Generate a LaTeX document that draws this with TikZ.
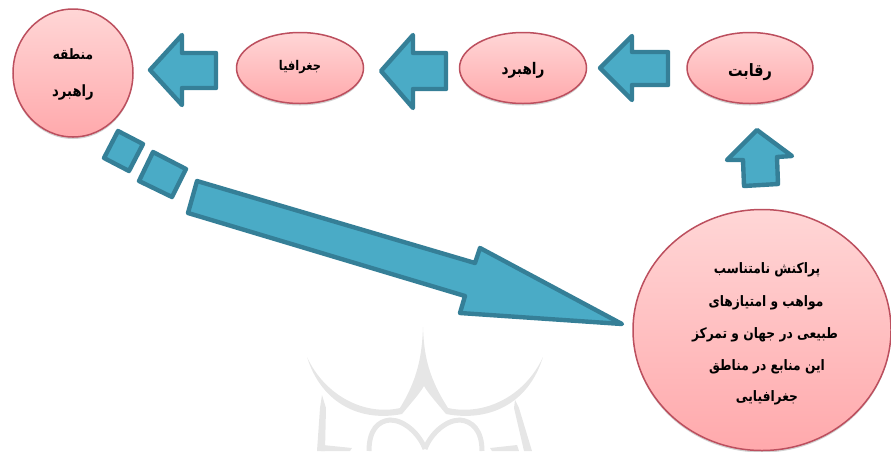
\documentclass[tikz,border=0pt]{standalone}
\usepackage{fontspec}
\TeXXeTstate=1
\newfontfamily\arabicfont[Script=Arabic,FakeStretch=0.85]{DejaVu Sans}
\usetikzlibrary{shapes.geometric,shadows}
\definecolor{bluefill}{HTML}{4AABC6}
\definecolor{blueline}{HTML}{357F97}
\definecolor{pinktop}{HTML}{FFD6D6}
\definecolor{pinkbot}{HTML}{FFA9AC}
\definecolor{pinkline}{HTML}{BC4F5E}
\definecolor{markgrey}{HTML}{E6E6E6}
\tikzset{
  x=1pt,y=-1pt,
  blob/.style={draw=pinkline,line width=1.5pt,top color=pinktop,bottom color=pinkbot,inner sep=0pt,
    drop shadow={shadow xshift=0pt,shadow yshift=-2pt,fill=black,opacity=.18},ellipse},
  flow/.style={draw=blueline,fill=bluefill,line width=4.4pt,line join=round},
  wmark/.style={draw=markgrey,line width=5pt},
  wfill/.style={fill=markgrey,draw=none},
  lab/.style={font=\arabicfont\bfseries\fontsize{#1}{#1}\selectfont,text=black,align=center,inner sep=0pt}
}
\newcommand{\fa}[1]{\beginR #1\endR}
\begin{document}
\begin{tikzpicture}
\useasboundingbox (0,0) rectangle (891,451);
% watermark
\fill[wfill] (423,327) .. controls (424,355) and (428,378) .. (450,411) -- (446,414) .. controls (436,402) and (428,393) .. (424,386) .. controls (420,393) and (412,402) .. (402,414) -- (398,411) .. controls (418,380) and (422,355) .. (423,327) -- cycle;
\fill[wfill] (307,357) .. controls (325,396) and (365,416) .. (400,408) -- (402,414) .. controls (362,422) and (322,405) .. (307,357) -- cycle;
\fill[wfill] (543,357) .. controls (525,396) and (485,416) .. (448,408) -- (446,414) .. controls (488,422) and (528,405) .. (543,357) -- cycle;
\fill[wfill] (322,395) -- (326,408) -- (325,451) -- (317,451) -- (320,408) -- cycle;
\fill[wfill] (515,400) -- (519,408) -- (532,451) -- (524,451) -- (514,408) -- cycle;
\fill[wfill] (323,445) -- (352,448) -- (350,451) -- (321,451) -- cycle;
\fill[wfill] (517,445) -- (490,448) -- (492,451) -- (519,451) -- cycle;
\draw[wmark] (369,451) .. controls (369,430) and (378,421) .. (390,420) .. controls (405,420) and (420,435) .. (425,449);
\draw[wmark] (482,451) .. controls (482,430) and (472,421) .. (460,420) .. controls (445,420) and (430,435) .. (425,449);
% nodes
\node[blob,minimum width=120pt,minimum height=128pt] (region) at (73,73) {};
\node[lab=14.3] at (73,54) {\fa{منطقه}};
\node[lab=15.5] at (73,92) {\fa{راهبرد}};
\node[blob,minimum width=127pt,minimum height=71pt] (geo) at (300,68) {};
\node[lab=13.4] at (300,67) {\fa{جغرافیا}};
\node[blob,minimum width=127pt,minimum height=71pt] (strategy) at (523,68) {};
\node[lab=16] at (523,70) {\fa{راهبرد}};
\node[blob,minimum width=126pt,minimum height=71pt] (rivalry) at (750,68) {};
\node[lab=17] at (750,72) {\fa{رقابت}};
\node[blob,minimum width=258pt,minimum height=241pt] (disp) at (762,330) {};
\node[lab=14.4] at (767,270) {\fa{پراکنش نامتناسب}};
\node[lab=14.4] at (766,303) {\fa{مواهب و امتیازهای}};
\node[lab=14.4] at (765,335) {\fa{طبیعی در جهان و تمرکز}};
\node[lab=14.4] at (767,367) {\fa{این منابع در مناطق}};
\node[lab=14.4] at (767,398) {\fa{جغرافیایی}};
% arrows
\draw[flow] (150,70) -- (182,35) -- (182,53) -- (216,53) -- (216,88) -- (182,88) -- (182,105) -- cycle;
\draw[flow] (381,71) -- (413,35) -- (413,53) -- (446,53) -- (446,89) -- (413,89) -- (413,108) -- cycle;
\draw[flow] (600,68) -- (632,36) -- (632,52) -- (668,52) -- (668,85) -- (632,85) -- (632,100) -- cycle;
\draw[flow] (757,130) -- (727,160) -- (743,160) -- (744,186) -- (778,184) -- (777,157) -- (792,156) -- cycle;
\draw[flow] (118,131) -- (143,144) -- (129,171) -- (104,158) -- cycle;
\draw[flow] (153,152) -- (186,169) -- (172,197) -- (139,181) -- cycle;
\draw[flow] (197,181) -- (475,263) -- (480,248) -- (622,324) -- (460,313) -- (465,296) -- (188,213) -- cycle;
\end{tikzpicture}
\end{document}
